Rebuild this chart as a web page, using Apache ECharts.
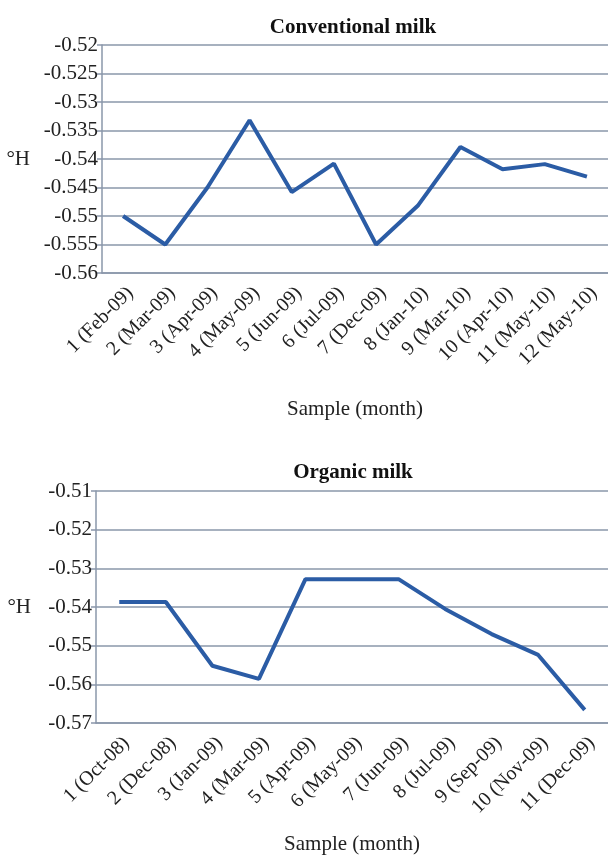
<!DOCTYPE html>
<html>
<head>
<meta charset="utf-8">
<script src="https://cdn.jsdelivr.net/npm/echarts@6/dist/echarts.min.js"></script>
<style>
html,body{margin:0;padding:0;background:#fff;}
#c{width:608px;height:855px;}
</style>
</head>
<body>
<div id="c"></div>
<script>
var convCategories = ['1 (Feb-09)','2 (Mar-09)','3 (Apr-09)','4 (May-09)','5 (Jun-09)','6 (Jul-09)','7 (Dec-09)','8 (Jan-10)','9 (Mar-10)','10 (Apr-10)','11 (May-10)','12 (May-10)'];
var convValues = [-0.550, -0.555, -0.545, -0.5332, -0.5458, -0.5408, -0.555, -0.5481, -0.5379, -0.5418, -0.5409, -0.5431];
var orgCategories = ['1 (Oct-08)','2 (Dec-08)','3 (Jan-09)','4 (Mar-09)','5 (Apr-09)','6 (May-09)','7 (Jun-09)','8 (Jul-09)','9 (Sep-09)','10 (Nov-09)','11 (Dec-09)'];
var orgValues = [-0.5387, -0.5387, -0.5552, -0.5586, -0.5328, -0.5328, -0.5328, -0.5405, -0.547, -0.5524, -0.5666];
var titles = ['Conventional milk', 'Organic milk'];
var xName = 'Sample (month)';
var yName = '°H';

var FONT = '"Liberation Serif", "DejaVu Serif", serif';
var GRID_C = '#8a97aa';
var LINE_C = '#2b5ca5';
function fmt(v){ return String(parseFloat(v.toFixed(3))); }

var chart = echarts.init(document.getElementById('c'));
function xAx(idx, cats, gap){
  return {
    type:'category', gridIndex: idx, data: cats, boundaryGap: true,
    axisLine:{show:true, lineStyle:{color:GRID_C, width:1.5}},
    axisTick:{show:false},
    axisLabel:{rotate:45, interval:0, fontFamily:FONT, fontSize:20, color:'#222', margin:10, verticalAlign:'top'},
    name: xName, nameLocation:'middle', nameGap: gap,
    nameTextStyle:{fontFamily:FONT, fontSize:21, color:'#222'}
  };
}
function yAx(idx, min, max, itv, gap){
  return {
    type:'value', gridIndex: idx, min:min, max:max, interval:itv,
    axisLine:{show:true, lineStyle:{color:GRID_C, width:1.5}},
    axisTick:{show:true, length:5, lineStyle:{color:GRID_C, width:1.5}},
    splitLine:{show:true, lineStyle:{color:GRID_C, width:1.5}},
    axisLabel:{formatter:fmt, fontFamily:FONT, fontSize:21, color:'#222', margin:4},
    name: yName, nameLocation:'middle', nameRotate:0, nameGap: gap,
    nameTextStyle:{fontFamily:FONT, fontSize:21, color:'#222'}
  };
}
chart.setOption({
  animation:false,
  title:[
    {text:titles[0], left:348, top:12, textAlign:'center', textStyle:{fontFamily:FONT, fontSize:21, fontWeight:'bold', color:'#111'}},
    {text:titles[1], left:348, top:457, textAlign:'center', textStyle:{fontFamily:FONT, fontSize:21, fontWeight:'bold', color:'#111'}}
  ],
  grid:[
    {left:102, right:0, top:45, height:228, containLabel:false, outerBoundsMode:'none'},
    {left:96, right:0, top:491, height:232, containLabel:false, outerBoundsMode:'none'}
  ],
  xAxis:[xAx(0, convCategories, 126), xAx(1, orgCategories, 111)],
  yAxis:[yAx(0, -0.56, -0.52, 0.005, 72), yAx(1, -0.57, -0.51, 0.01, 65)],
  series:[
    {type:'line', xAxisIndex:0, yAxisIndex:0, data:convValues, symbol:'none', lineStyle:{color:LINE_C, width:4}},
    {type:'line', xAxisIndex:1, yAxisIndex:1, data:orgValues, symbol:'none', lineStyle:{color:LINE_C, width:4}}
  ]
});
</script>
</body>
</html>
